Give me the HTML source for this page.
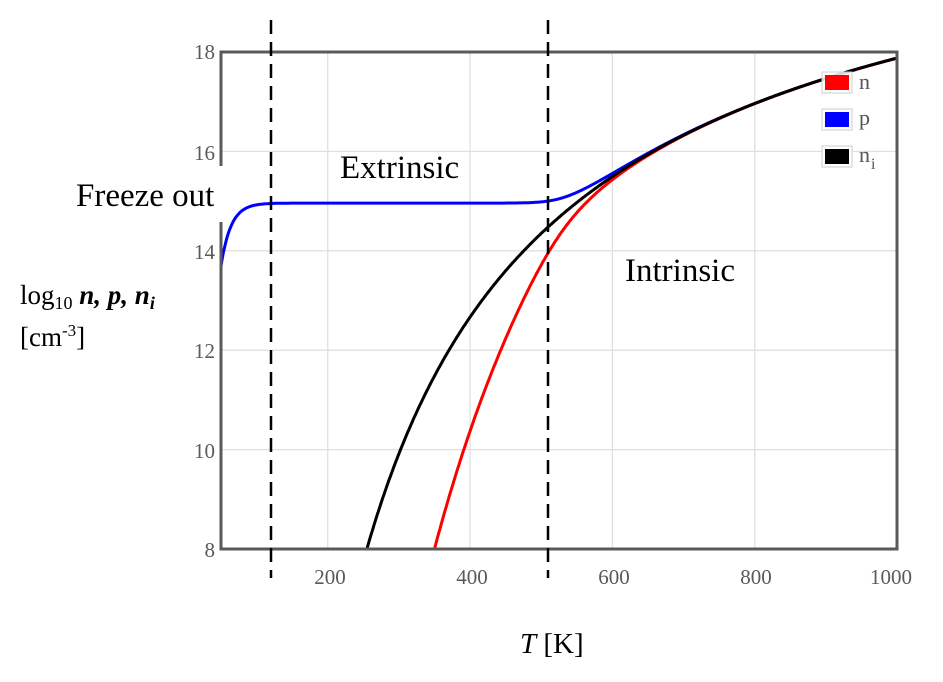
<!DOCTYPE html>
<html><head><meta charset="utf-8"><style>
html,body{margin:0;padding:0;background:#fff;}
svg{display:block;}
.t{font-family:"Liberation Serif",serif;}
</style></head><body>
<svg id="s" width="943" height="682" viewBox="0 0 943 682" xmlns="http://www.w3.org/2000/svg">
<rect width="943" height="682" fill="#fff"/>
<g stroke="#e0e0e0" stroke-width="1.3" id="grid"></g>
<g id="curves" fill="none" stroke-width="3"></g>
<rect x="221" y="52" width="676" height="497" fill="none" stroke="#5a5a5a" stroke-width="3"/>
<rect x="212" y="166" width="12" height="56" fill="#fff"/>
<g class="t" fill="#5a5a5a" font-size="21" text-anchor="end">
<text x="215" y="59">18</text><text x="215" y="160">16</text><text x="215" y="259">14</text>
<text x="215" y="358">12</text><text x="215" y="458">10</text><text x="215" y="557">8</text>
</g>
<g class="t" fill="#5a5a5a" font-size="21" text-anchor="middle">
<text x="330" y="584">200</text><text x="472" y="584">400</text><text x="614" y="584">600</text>
<text x="756" y="584">800</text><text x="891" y="584">1000</text>
</g>
<g stroke="#000" stroke-width="2.5" stroke-dasharray="14,8">
<line x1="271" y1="20" x2="271" y2="578"/><line x1="548" y1="20" x2="548" y2="578"/>
</g>
<g>
<rect x="822" y="72" width="30" height="21" fill="#fff" fill-opacity="0.85" stroke="#ccc"/>
<rect x="825" y="75" width="24" height="15" fill="#ff0000"/>
<rect x="822" y="109" width="30" height="21" fill="#fff" stroke="#ccc"/>
<rect x="825" y="112" width="24" height="15" fill="#0000ff"/>
<rect x="822" y="146" width="30" height="21" fill="#fff" stroke="#ccc"/>
<rect x="825" y="149" width="24" height="15" fill="#000"/>
<g class="t" fill="#555" font-size="22">
<text x="859" y="89">n</text><text x="859" y="125">p</text><text x="859" y="162">n</text><text x="871" y="169" font-size="16">i</text>
</g>
</g>
<g class="t" fill="#000">
<rect x="74" y="176" width="147" height="38" fill="#fff"/>
<text x="76" y="206" font-size="33">Freeze out</text>
<text x="340" y="178" font-size="33">Extrinsic</text>
<text x="625" y="281" font-size="33">Intrinsic</text>
<text x="20" y="304" font-size="27">log<tspan font-size="18" dy="5">10</tspan><tspan dy="-5" font-style="italic" font-weight="bold"> n, p, n</tspan><tspan font-style="italic" font-weight="bold" font-size="18" dy="5">i</tspan></text>
<text x="20" y="346" font-size="27">[cm<tspan font-size="17" dy="-10">-3</tspan><tspan dy="10">]</tspan></text>
<text x="520" y="653" font-size="29"><tspan font-style="italic">T</tspan> [K]</text>
</g>
</svg>
<script>
(function(){
var X=function(T){return 221+(T-50)*676/950;},Y=function(v){return 549-(v-8)*49.7;};
var g=document.getElementById('grid'),ns='http://www.w3.org/2000/svg';
[200,400,600,800].forEach(function(t){var l=document.createElementNS(ns,'line');l.setAttribute('x1',X(t));l.setAttribute('x2',X(t));l.setAttribute('y1',52);l.setAttribute('y2',549);g.appendChild(l);});
[10,12,14,16].forEach(function(v){var l=document.createElementNS(ns,'line');l.setAttribute('x1',221);l.setAttribute('x2',897);l.setAttribute('y1',Y(v));l.setAttribute('y2',Y(v));g.appendChild(l);});
function lni(T){return 16.453+1.5*Math.log10(T)-3076/T;}
function lpe(T){return 14.96-1.27*Math.exp(-(T-50)/14);}
var pn='',pp='',pi='';
for(var T=50;T<=1000;T+=1){
 var ni=lni(T),na=lpe(T);
 var A=Math.pow(10,na-15)/2, N=Math.pow(10,ni-15);
 var p=A+Math.sqrt(A*A+N*N); var lp=Math.log10(p)+15; var ln=2*ni-lp;
 if(ni>=8)pi+=(pi?'L':'M')+X(T).toFixed(1)+','+Y(Math.min(ni,18)).toFixed(1);
 if(ln>=8)pn+=(pn?'L':'M')+X(T).toFixed(1)+','+Y(ln).toFixed(1);
 pp+=(pp?'L':'M')+X(T).toFixed(1)+','+Y(lp).toFixed(1);
}
var c=document.getElementById('curves');
[[pp,'#0000ff'],[pn,'#ff0000'],[pi,'#000']].forEach(function(a){var p=document.createElementNS(ns,'path');p.setAttribute('d',a[0]);p.setAttribute('stroke',a[1]);c.appendChild(p);});
})();
</script>
</body></html>
